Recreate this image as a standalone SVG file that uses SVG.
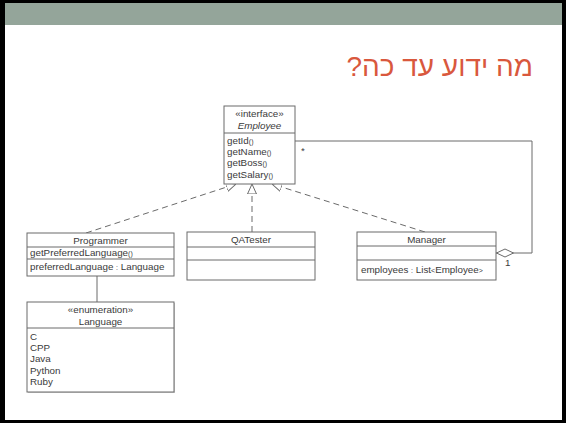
<svg xmlns="http://www.w3.org/2000/svg" width="566" height="423" viewBox="0 0 566 423">
  <style>
    .box { fill: #ffffff; stroke: #6b6b6b; stroke-width: 1; }
    .sep { stroke: #6b6b6b; stroke-width: 1; }
    .t { font-family: "Liberation Sans", Arial, sans-serif; font-size: 9.8px; fill: #3a3a3a; }
    .c { text-anchor: middle; }
    .p { font-size: 7px; }
    .edge { fill: none; stroke: #6b6b6b; stroke-width: 1; }
    .dash { stroke-dasharray: 6 4; }
  </style>
  <defs>
    <marker id="realize" viewBox="0 0 10 10" refX="10" refY="5" markerWidth="10" markerHeight="10" markerUnits="userSpaceOnUse" orient="auto">
      <path d="M0,0.5 L10,5 L0,9.5 Z" fill="#ffffff" stroke="#6b6b6b" stroke-width="1"/>
    </marker>
    <marker id="agg" viewBox="0 0 18 10" refX="0" refY="5" markerWidth="18" markerHeight="10" markerUnits="userSpaceOnUse" orient="auto">
      <path d="M0.5,5 L9,1 L17.5,5 L9,9 Z" fill="#ffffff" stroke="#6b6b6b" stroke-width="1"/>
    </marker>
  </defs>

  <!-- slide frame -->
  <rect x="0" y="0" width="566" height="423" fill="#000000"/>
  <rect x="5" y="3" width="557" height="417" fill="#ffffff"/>
  <rect x="5" y="3" width="557" height="22" fill="#94a59a"/>
  <text x="533" y="76" direction="rtl" text-anchor="start" font-family="'Liberation Sans', 'DejaVu Sans', sans-serif" font-size="28" fill="#d9583d">מה ידוע עד כה?</text>

  <!-- connectors -->
  <g id="connectors">
    <path class="edge dash" d="M86,233 L236,184" marker-end="url(#realize)"/>
    <path class="edge dash" d="M252,232 L252,184" marker-end="url(#realize)"/>
    <path class="edge dash" d="M425,232 L272,184" marker-end="url(#realize)"/>
    <path class="edge" d="M496,253 L532,253 L532,141 L295,141" marker-start="url(#agg)"/>
    <path class="edge" d="M97,276 L97,302"/>
    <text class="t" x="301" y="154" font-size="7">*</text>
    <text class="t" x="505" y="266" font-size="8">1</text>
  </g>

  <!-- Employee interface -->
  <g id="employee">
    <rect class="box" x="224" y="106" width="71" height="78"/>
    <line class="sep" x1="224" y1="133" x2="295" y2="133"/>
    <text class="t c" x="259.5" y="117" font-size="8.5">«interface»</text>
    <text class="t c" x="259.5" y="129" font-style="italic">Employee</text>
    <text class="t" x="227" y="144">getId<tspan class="p">()</tspan></text>
    <text class="t" x="227" y="155">getName<tspan class="p">()</tspan></text>
    <text class="t" x="227" y="166">getBoss<tspan class="p">()</tspan></text>
    <text class="t" x="227" y="178">getSalary<tspan class="p">()</tspan></text>
  </g>

  <!-- Programmer -->
  <g id="programmer">
    <rect class="box" x="27" y="233" width="147" height="43"/>
    <line class="sep" x1="27" y1="247" x2="174" y2="247"/>
    <line class="sep" x1="27" y1="259" x2="174" y2="259"/>
    <text class="t c" x="100.5" y="244">Programmer</text>
    <text class="t" x="30" y="256">getPreferredLanguage<tspan class="p">()</tspan></text>
    <text class="t" x="30" y="270">preferredLanguage <tspan class="p">:</tspan> Language</text>
  </g>

  <!-- QATester -->
  <g id="qatester">
    <rect class="box" x="187" y="232" width="128" height="48"/>
    <line class="sep" x1="187" y1="247" x2="315" y2="247"/>
    <line class="sep" x1="187" y1="260" x2="315" y2="260"/>
    <text class="t c" x="251" y="243">QATester</text>
  </g>

  <!-- Manager -->
  <g id="manager">
    <rect class="box" x="357" y="232" width="139" height="48"/>
    <line class="sep" x1="357" y1="246" x2="496" y2="246"/>
    <line class="sep" x1="357" y1="260" x2="496" y2="260"/>
    <text class="t c" x="426.5" y="243">Manager</text>
    <text class="t" x="361" y="273">employees <tspan class="p">:</tspan> List<tspan class="p">&lt;</tspan>Employee<tspan class="p">&gt;</tspan></text>
  </g>

  <!-- Language enumeration -->
  <g id="language">
    <rect x="28" y="303" width="147" height="90" fill="#cfcfcf"/>
    <rect class="box" x="27" y="302" width="147" height="90"/>
    <line class="sep" x1="27" y1="328" x2="174" y2="328"/>
    <text class="t c" x="100.5" y="313" font-size="8.5">«enumeration»</text>
    <text class="t c" x="100.5" y="325">Language</text>
    <text class="t" x="30" y="340">C</text>
    <text class="t" x="30" y="351">CPP</text>
    <text class="t" x="30" y="362">Java</text>
    <text class="t" x="30" y="374">Python</text>
    <text class="t" x="30" y="385">Ruby</text>
  </g>
</svg>
